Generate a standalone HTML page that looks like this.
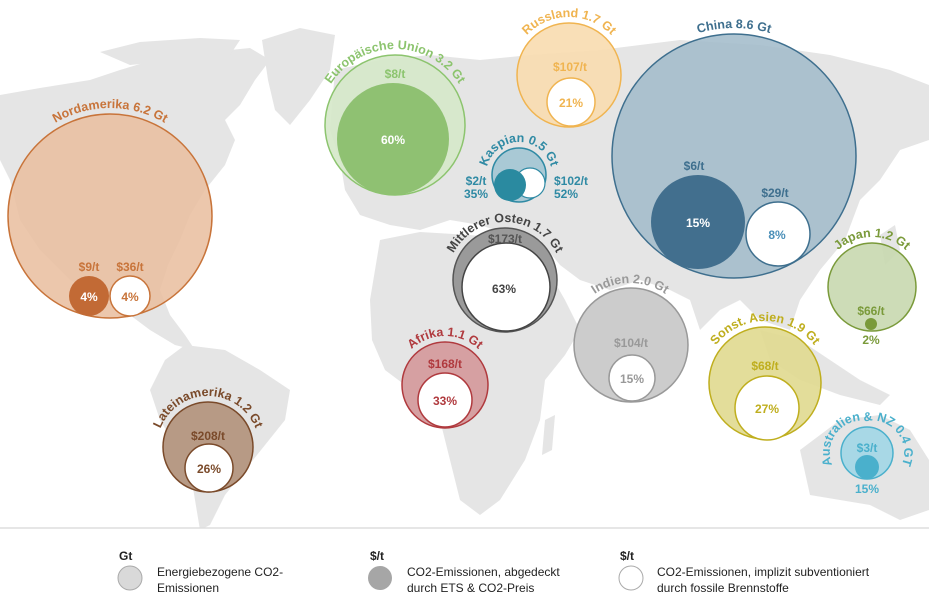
<!DOCTYPE html>
<html><head><meta charset="utf-8"><style>
html,body{margin:0;padding:0;background:#fff;}
svg{display:block;font-family:"Liberation Sans",Arial,sans-serif;}
.t{font-weight:bold;font-size:12.5px;}
.v{font-weight:bold;font-size:12px;text-anchor:middle;}
.lg{font-size:12px;fill:#222;}
</style></head><body>
<svg width="929" height="610" viewBox="0 0 929 610">
<defs>
<path id="aNA" d="M2,216 A108,108 0 0 1 218,216"/>
<path id="aEU" d="M319,125 A76,76 0 0 1 471,125"/>
<path id="aRU" d="M511,75 A58,58 0 0 1 627,75"/>
<path id="aCN" d="M606,156 A128,128 0 0 1 862,156"/>
<path id="aKA" d="M486,175 A33,33 0 0 1 552,175"/>
<path id="aMO" d="M447,280 A58,58 0 0 1 563,280"/>
<path id="aIN" d="M568,345 A62,62 0 0 1 692,345"/>
<path id="aAF" d="M396,385 A49,49 0 0 1 494,385"/>
<path id="aLA" d="M157,447 A51,51 0 0 1 259,447"/>
<path id="aJP" d="M822,287 A50,50 0 0 1 922,287"/>
<path id="aSA" d="M703,383 A62,62 0 0 1 827,383"/>
<path id="aAU" d="M835,470 A32,32 0 0 1 867,421 A32,32 0 0 1 899,470"/>
</defs>
<g fill="#e5e5e5">
<path d="M0,95 L40,88 L90,80 L120,70 L160,58 L210,52 L250,48 L270,60 L255,80 L240,105 L225,120 L235,140 L225,165 L205,190 L190,215 L180,240 L168,265 L160,290 L170,315 L185,335 L195,350 L175,345 L150,330 L130,315 L110,300 L70,280 L40,250 L20,220 L10,180 L0,160 Z"/>
<path d="M100,52 L140,42 L200,38 L240,40 L230,55 L180,60 L130,65 Z"/>
<path d="M262,40 L300,28 L335,35 L330,70 L310,100 L290,125 L275,110 L268,80 Z"/>
<path d="M185,345 L225,350 L260,370 L290,390 L285,420 L265,445 L245,470 L225,495 L210,525 L200,530 L195,500 L190,470 L175,445 L160,420 L150,390 L165,360 Z"/>
<path d="M335,70 L380,60 L430,55 L480,60 L530,55 L600,50 L680,40 L760,45 L830,55 L890,70 L929,85 L929,140 L900,150 L880,180 L860,200 L845,240 L820,270 L800,300 L790,330 L760,320 L740,300 L720,310 L700,330 L690,300 L670,290 L640,280 L610,290 L580,280 L560,265 L540,240 L510,235 L480,225 L450,220 L420,230 L390,225 L360,215 L345,190 L340,160 L330,130 Z"/>
<path d="M380,240 L420,232 L470,235 L520,240 L545,265 L565,300 L580,330 L565,355 L545,380 L540,420 L525,460 L500,500 L480,515 L460,500 L450,460 L440,420 L430,395 L405,385 L385,370 L372,340 L370,300 Z"/>
<path d="M545,420 L555,415 L552,450 L542,455 Z"/>
<path d="M760,330 L800,340 L830,360 L860,380 L890,395 L880,405 L840,395 L800,380 L770,360 Z"/>
<path d="M800,450 L840,420 L880,415 L910,430 L929,460 L929,510 L900,520 L870,505 L840,500 L810,495 Z"/>
<path d="M880,235 L895,225 L900,250 L885,265 Z"/>
</g>

<circle cx="110" cy="216" r="102" fill="#e9bfa1" fill-opacity="0.88" stroke="#c8743a" stroke-width="1.5"/>
<circle cx="89" cy="296" r="20" fill="#c26a35"/>
<circle cx="130" cy="296" r="20" fill="#fff" stroke="#c8743a" stroke-width="1.5"/>
<text class="v" x="89" y="271" fill="#c8743a">$9/t</text>
<text class="v" x="130" y="271" fill="#c8743a">$36/t</text>
<text class="v" x="89" y="301" fill="#fff">4%</text>
<text class="v" x="130" y="301" fill="#c8743a">4%</text>
<text class="t" fill="#c8743a"><textPath href="#aNA" startOffset="50%" text-anchor="middle">Nordamerika 6.2 Gt</textPath></text>

<circle cx="395" cy="125" r="70" fill="#d5e8c9" fill-opacity="0.9" stroke="#8cc46e" stroke-width="1.5"/>
<circle cx="393" cy="139" r="56" fill="#8fc172"/>
<text class="v" x="395" y="78" fill="#8cc46e">$8/t</text>
<text class="v" x="393" y="144" fill="#fff">60%</text>
<text class="t" fill="#8cc46e"><textPath href="#aEU" startOffset="50%" text-anchor="middle">Europäische Union 3.2 Gt</textPath></text>

<circle cx="569" cy="75" r="52" fill="#f8dcaf" fill-opacity="0.9" stroke="#f0b450" stroke-width="1.5"/>
<circle cx="571" cy="102" r="24" fill="#fff" stroke="#f0b450" stroke-width="1.5"/>
<text class="v" x="570" y="71" fill="#f0b450">$107/t</text>
<text class="v" x="571" y="107" fill="#f0b450">21%</text>
<text class="t" fill="#f0b450"><textPath href="#aRU" startOffset="50%" text-anchor="middle">Russland 1.7 Gt</textPath></text>

<circle cx="734" cy="156" r="122" fill="#a3bccb" fill-opacity="0.88" stroke="#3e6f8e" stroke-width="1.5"/>
<circle cx="698" cy="222" r="47" fill="#426f8e"/>
<circle cx="778" cy="234" r="32" fill="#fff" stroke="#3e6f8e" stroke-width="1.5"/>
<text class="v" x="694" y="170" fill="#3e6f8e">$6/t</text>
<text class="v" x="775" y="197" fill="#3e6f8e">$29/t</text>
<text class="v" x="698" y="227" fill="#fff">15%</text>
<text class="v" x="777" y="239" fill="#4a8fb8">8%</text>
<text class="t" fill="#3e6f8e"><textPath href="#aCN" startOffset="50%" text-anchor="middle">China 8.6 Gt</textPath></text>

<circle cx="519" cy="175" r="27" fill="#a9c9d5" stroke="#2f8aa4" stroke-width="1.5"/>
<circle cx="530" cy="183" r="15" fill="#fff" stroke="#2f8aa4" stroke-width="1.2"/>
<circle cx="510" cy="185" r="16" fill="#2a8aa0"/>
<text class="v" x="476" y="185" fill="#2f8aa4">$2/t</text>
<text class="v" x="476" y="198" fill="#2f8aa4">35%</text>
<text class="v" x="571" y="185" fill="#2f8aa4">$102/t</text>
<text class="v" x="566" y="198" fill="#2f8aa4">52%</text>
<text class="t" fill="#2f8aa4"><textPath href="#aKA" startOffset="50%" text-anchor="middle">Kaspian 0.5 Gt</textPath></text>

<circle cx="505" cy="280" r="52" fill="#9a9a9a" stroke="#555" stroke-width="1.5"/>
<circle cx="506" cy="287" r="44" fill="#fff" stroke="#444" stroke-width="1.5"/>
<text class="v" x="505" y="243" fill="#555">$173/t</text>
<text class="v" x="504" y="293" fill="#444">63%</text>
<text class="t" fill="#444"><textPath href="#aMO" startOffset="50%" text-anchor="middle">Mittlerer Osten 1.7 Gt</textPath></text>

<circle cx="631" cy="345" r="57" fill="#c6c6c6" fill-opacity="0.9" stroke="#999" stroke-width="1.5"/>
<circle cx="632" cy="378" r="23" fill="#fff" stroke="#999" stroke-width="1.5"/>
<text class="v" x="631" y="347" fill="#999">$104/t</text>
<text class="v" x="632" y="383" fill="#999">15%</text>
<text class="t" fill="#999"><textPath href="#aIN" startOffset="50%" text-anchor="middle">Indien 2.0 Gt</textPath></text>

<circle cx="445" cy="385" r="43" fill="#d6a0a2" stroke="#b03a3e" stroke-width="1.5"/>
<circle cx="445" cy="400" r="27" fill="#fff" stroke="#b03a3e" stroke-width="1.5"/>
<text class="v" x="445" y="368" fill="#b03a3e">$168/t</text>
<text class="v" x="445" y="405" fill="#b03a3e">33%</text>
<text class="t" fill="#b03a3e"><textPath href="#aAF" startOffset="50%" text-anchor="middle">Afrika 1.1 Gt</textPath></text>

<circle cx="208" cy="447" r="45" fill="#b79a85" stroke="#7a4a2a" stroke-width="1.5"/>
<circle cx="209" cy="468" r="24" fill="#fff" stroke="#7a4a2a" stroke-width="1.5"/>
<text class="v" x="208" y="440" fill="#7a4a2a">$208/t</text>
<text class="v" x="209" y="473" fill="#7a4a2a">26%</text>
<text class="t" fill="#7a4a2a"><textPath href="#aLA" startOffset="50%" text-anchor="middle">Lateinamerika 1.2 Gt</textPath></text>

<circle cx="872" cy="287" r="44" fill="#c9d9b1" fill-opacity="0.92" stroke="#7a9a3a" stroke-width="1.5"/>
<circle cx="871" cy="324" r="6" fill="#7a9a3a"/>
<text class="v" x="871" y="315" fill="#7a9a3a">$66/t</text>
<text class="v" x="871" y="344" fill="#7a9a3a">2%</text>
<text class="t" fill="#7a9a3a"><textPath href="#aJP" startOffset="50%" text-anchor="middle">Japan 1.2 Gt</textPath></text>

<circle cx="765" cy="383" r="56" fill="#e1da91" fill-opacity="0.92" stroke="#bfae1e" stroke-width="1.5"/>
<circle cx="767" cy="408" r="32" fill="#fff" stroke="#bfae1e" stroke-width="1.5"/>
<text class="v" x="765" y="370" fill="#bfae1e">$68/t</text>
<text class="v" x="767" y="413" fill="#bfae1e">27%</text>
<text class="t" fill="#bfae1e"><textPath href="#aSA" startOffset="50%" text-anchor="middle">Sonst. Asien 1.9 Gt</textPath></text>

<circle cx="867" cy="453" r="26" fill="#a8d8e6" stroke="#4ab0cc" stroke-width="1.5"/>
<circle cx="867" cy="467" r="12" fill="#4ab0cc"/>
<text class="v" x="867" y="452" fill="#4ab0cc">$3/t</text>
<text class="v" x="867" y="493" fill="#4ab0cc">15%</text>
<text class="t" fill="#4ab0cc"><textPath href="#aAU" startOffset="50%" text-anchor="middle">Australien &amp; NZ 0.4 GT</textPath></text>

<rect x="0" y="528" width="929" height="82" fill="#fff"/>
<line x1="0" y1="528" x2="929" y2="528" stroke="#ddd" stroke-width="1.5"/>
<text x="119" y="560" font-weight="bold" font-size="12" fill="#222">Gt</text>
<circle cx="130" cy="578" r="12" fill="#d9d9d9" stroke="#aaa"/>
<text class="lg" x="157" y="576">Energiebezogene CO2-</text>
<text class="lg" x="157" y="592">Emissionen</text>
<text x="370" y="560" font-weight="bold" font-size="12" fill="#222">$/t</text>
<circle cx="380" cy="578" r="12" fill="#a6a6a6"/>
<text class="lg" x="407" y="576">CO2-Emissionen, abgedeckt</text>
<text class="lg" x="407" y="592">durch ETS &amp; CO2-Preis</text>
<text x="620" y="560" font-weight="bold" font-size="12" fill="#222">$/t</text>
<circle cx="631" cy="578" r="12" fill="#fff" stroke="#aaa"/>
<text class="lg" x="657" y="576">CO2-Emissionen, implizit subventioniert</text>
<text class="lg" x="657" y="592">durch fossile Brennstoffe</text>
</svg>
</body></html>
